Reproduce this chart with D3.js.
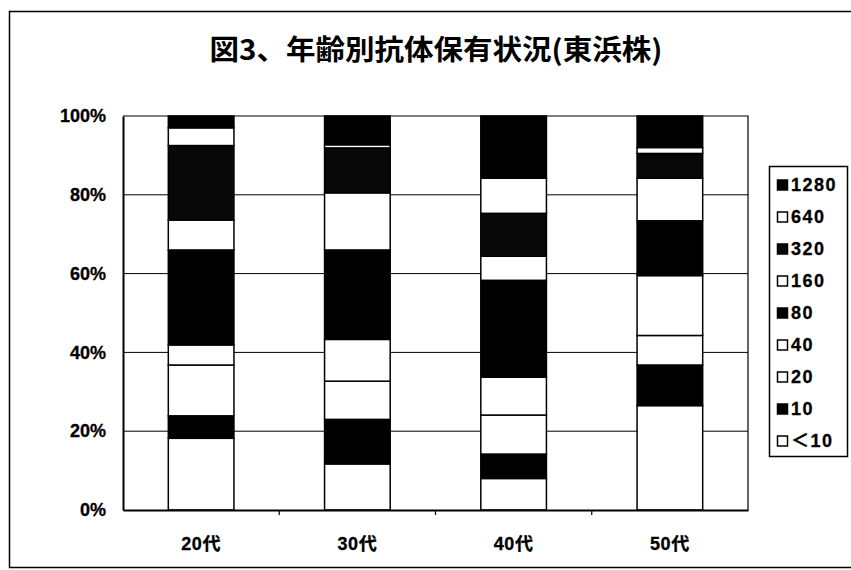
<!DOCTYPE html>
<html><head><meta charset="utf-8">
<script src="https://cdn.jsdelivr.net/npm/d3@7"></script>
<style>body{margin:0;background:#fff}</style>
</head><body>
<svg id="chart" width="851" height="570"></svg>
<script>
const title = "図3、年齢別抗体保有状況(東浜株)";
const categories = ["20代", "30代", "40代", "50代"];
const seriesNames = ["＜10", "10", "20", "40", "80", "160", "320", "640", "1280"];
const seriesFills = ["#ffffff", "#000000", "#ffffff", "#ffffff", "#000000", "#ffffff", "#080808", "#ffffff", "#000000"];
// percentage of each titre group per age group
const valLt10 = [18.2, 11.7, 8.0, 26.5];
const val10   = [5.7, 11.3, 6.2, 10.3];
const val20   = [12.9, 9.7, 9.9, 7.5];
const val40   = [5.1, 10.6, 9.6, 15.2];
const val80   = [24.1, 22.7, 24.6, 13.9];
const val160  = [7.6, 14.5, 6.1, 10.8];
const val320  = [18.9, 11.4, 10.9, 6.3];
const val640  = [4.5, 0.8, 8.9, 1.5];
const val1280 = [3.0, 7.3, 15.8, 8.0];
const yTicks = [0, 20, 40, 60, 80, 100];
const yTickLabels = ["0%", "20%", "40%", "60%", "80%", "100%"];

const seriesValues = [valLt10, val10, val20, val40, val80, val160, val320, val640, val1280];
const table = categories.map((c, i) => {
  const row = {cat: c};
  seriesNames.forEach((s, j) => row[s] = seriesValues[j][i]);
  return row;
});

const svg = d3.select("#chart");
const font = "'Liberation Sans', Arial, 'Noto Sans CJK JP', sans-serif";

// outer chart border
svg.append("rect").attr("x", 9.5).attr("y", 11.5).attr("width", 860).attr("height", 556)
  .attr("fill", "#fff").attr("stroke", "#000").attr("stroke-width", 1.5);

svg.append("text").attr("x", 436).attr("y", 60).attr("text-anchor", "middle")
  .attr("font-family", "'Noto Sans CJK JP', sans-serif").attr("font-weight", "bold")
  .attr("font-size", 28).attr("textLength", 453).attr("lengthAdjust", "spacingAndGlyphs")
  .text(title);

const x = d3.scaleBand().domain(categories).range([123, 748]).paddingInner(0.58).paddingOuter(0.29);
const y = d3.scaleLinear().domain([0, 100]).range([510, 116]);

// gridlines
svg.append("g").selectAll("line").data(yTicks.filter(t => t > 0 && t < 100)).join("line")
  .attr("x1", 123).attr("x2", 748).attr("y1", d => y(d)).attr("y2", d => y(d))
  .attr("stroke", "#000").attr("stroke-width", 1);

// plot border top/right
svg.append("path").attr("d", `M123,${y(100)}H748V${y(0)}`).attr("fill", "none")
  .attr("stroke", "#000").attr("stroke-width", 1.2);

const stack = d3.stack().keys(seriesNames)(table);
svg.append("g").selectAll("g").data(stack).join("g")
  .attr("fill", (d, i) => seriesFills[i])
  .selectAll("rect").data(d => d).join("rect")
  .attr("x", d => x(d.data.cat)).attr("width", x.bandwidth())
  .attr("y", d => y(d[1])).attr("height", d => y(d[0]) - y(d[1]))
  .attr("stroke", "#000").attr("stroke-width", 1.5);

// y axis
const yAxis = svg.append("g").attr("transform", "translate(123,0)")
  .call(d3.axisLeft(y).tickValues(yTicks).tickSize(0).tickPadding(17)
    .tickFormat((d, i) => yTickLabels[i]));
yAxis.attr("font-size", null).attr("font-family", null);
yAxis.select(".domain").attr("stroke", "#000").attr("stroke-width", 2);
yAxis.selectAll("text").style("font-family", font).style("font-weight", "bold")
  .style("font-size", "18px").attr("fill", "#000").attr("stroke", "#000").attr("stroke-width", 0.3);

// x axis
const xAxis = svg.append("g").attr("transform", `translate(0,${y(0)})`)
  .call(d3.axisBottom(x).tickSize(0).tickPadding(27));
xAxis.attr("font-size", null).attr("font-family", null);
xAxis.select(".domain").attr("stroke", "#000").attr("stroke-width", 2);
xAxis.selectAll("text").style("font-family", font).style("font-weight", "bold")
  .style("font-size", "18px").attr("letter-spacing", 0.5)
  .attr("fill", "#000").attr("stroke", "#000").attr("stroke-width", 0.3);
// category boundary ticks
const bounds = categories.slice(1).map(c => x(c) - x.step() * x.paddingInner() / 2);
svg.append("g").selectAll("line").data(bounds).join("line")
  .attr("x1", d => d).attr("x2", d => d).attr("y1", y(0)).attr("y2", y(0) + 5)
  .attr("stroke", "#000").attr("stroke-width", 1.2);

// legend
const lg = svg.append("g");
lg.append("rect").attr("x", 769.5).attr("y", 166.5).attr("width", 78).attr("height", 290)
  .attr("fill", "#fff").attr("stroke", "#000").attr("stroke-width", 1.5);
const legendItems = seriesNames.map((s, i) => ({name: s, fill: seriesFills[i]})).reverse();
const li = lg.selectAll("g.item").data(legendItems).join("g").attr("class", "item")
  .attr("transform", (d, i) => `translate(0,${185 + i * 32})`);
li.append("rect").attr("x", 777.5).attr("y", -5).attr("width", 10).attr("height", 10)
  .attr("fill", d => d.fill).attr("stroke", "#000").attr("stroke-width", 1.5);
li.append("text").attr("x", 791).attr("y", 0).attr("dy", "0.36em")
  .style("font-family", font).style("font-weight", "bold").style("font-size", "18px")
  .attr("letter-spacing", 1.5).attr("stroke", "#000").attr("stroke-width", 0.3)
  .text(d => d.name);
</script>
</body></html>
